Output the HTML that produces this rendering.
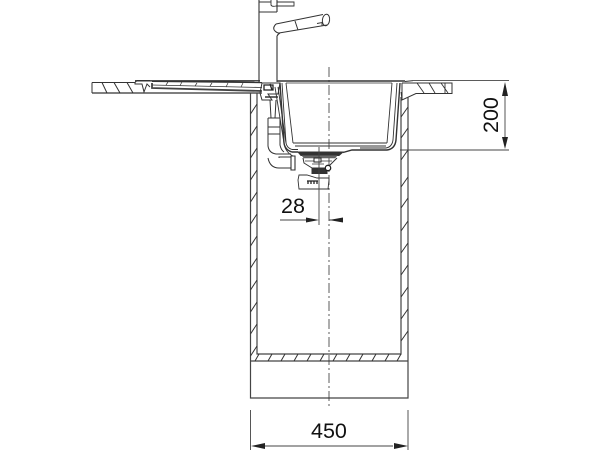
<!DOCTYPE html>
<html><head><meta charset="utf-8"><style>
html,body{margin:0;padding:0;background:#fff}
svg{display:block}
text{font-family:"Liberation Sans",sans-serif;font-size:21.500px;fill:#111}
</style></head><body>
<svg width="600" height="450" viewBox="0 0 600 450" xmlns="http://www.w3.org/2000/svg">
<g fill="none" stroke="#333" stroke-width="1">
<!-- faucet -->
<path d="M259 0V82M277 0V12M259 12H277M277 36V82M277 36Q278 34 280 33" stroke-width="1.100"/>
<path d="M259 2H271M271 0V5Q272 7 276 6H294V2H277" stroke-width=".9"/>
<path d="M276 24L323 14.500M279 33L327 25M276 24Q272 28 275 31Q277 33 279 33M295 21L298 30"/>
<ellipse cx="326" cy="20" rx="3.600" ry="5.800" transform="rotate(8 326 20)"/>
<path d="M317 23.500L322 22.500V26" stroke-width=".9"/>
<!-- left counter -->
<path d="M92 82.500H135L137 80.500H150M92 82.500V93M135 82.500V84H142L144 92L147 84L150 87"/>
<path d="M92 93H262" stroke-width="1.300"/>
<path d="M102 82.500L107 93M114 82.500L120 93M127 82.500L133 93"/>
<path d="M135 80.800H260" stroke-width="1.400"/>
<path d="M152 81.300L262 82.500" stroke-width="1.400"/>
<path d="M152 83V88L262 91" stroke-width="1.800" stroke="#444"/>
<path d="M152 85L262 87.500" stroke-width=".8"/>
<path d="M168 82L166 85M182 82L180 85.500M197 83L195 86M212 83L210 86M228 83L226 87M243 83L241 87" stroke-width=".7"/>
<!-- counter top -->
<path d="M277 81H405" stroke-width="1.600"/>
<!-- right counter -->
<path d="M402 83H452V93.500H416L402 100V83M413 80.600L405 81.500"/>
<path d="M417 83L424 93M429 83L435 93M441 83L448 93M445 83V93.500" stroke-width=".9"/>
<path d="M401 92L402 100" stroke-width=".9"/>
<!-- sink -->
<path d="M280 83L284 143Q285 150 292 152H298M400 83L396 140Q395 149 387 150H352L343 152.500" stroke-width="1.400"/>
<path d="M282 83L286 143Q287 148 292 149.500H298M397 83L393 140Q392 147 386 148H360" stroke-width=".9"/>
<path d="M286 83L293 143M392 83L387 143M293 143H387M295 146H386" stroke-width=".9"/>
<path d="M286 83H392" stroke-width=".8"/>
<!-- clamp & tube -->
<path d="M262 83H280L278 94H268L272 100H262L260 93Z"/>
<path d="M264 85H273V90H264ZM270 84L272 90" stroke="#222" stroke-width="1.300"/>
<path d="M265 97H278" stroke-width="1.500"/>
<path d="M270 100L271 118M276 100L275 118M268 118H280V145Q281 150 284 152M268 118V146Q269 153 276 154H291M268 127H280M268 134H280" />
<path d="M275 87L284 143Q285 152 293 156M278 87L286 143" stroke-width=".9"/>
<path d="M268 158Q270 168 279 168H291M279 158V157H291"/>
<path d="M291 156H295V170H291Z" stroke-width="1.100"/>
<!-- cabinet -->
<path d="M250.500 93V398H408V97M257 93V354H401V97M250.500 361H408" stroke-width="1.200" stroke="#444"/>
<path d="M250.500 114L257 104M250.500 136L257 126M250.500 158L257 148M250.500 180L257 170M250.500 202L257 192M250.500 224L257 214M250.500 246L257 236M250.500 268L257 258M250.500 290L257 280M250.500 312L257 302M250.500 334L257 324M250.500 356L257 346"/>
<path d="M401 117L408 107M401 138L408 128M401 160L408 150M401 187L408 177M401 208L408 198M401 231L408 221M401 253L408 243M401 275L408 265M401 297L408 287M401 319L408 309M401 341L408 331"/>
<path d="M255 361L259 354M268 361L272 354M281 361L285 354M294 361L298 354M307 361L311 354M320 361L324 354M333 361L337 354M346 361L350 354M359 361L363 354M372 361L376 354M385 361L389 354M397 361L401 354"/>
<!-- center line -->
<path d="M329 67V407" stroke-width=".8" stroke-dasharray="10 3 2 3"/>
<!-- waste -->
<path d="M298 152H343L339 155.500H301Z" fill="#333" stroke="#333"/>
<path d="M302 155.500H337L335 158H304Z" fill="#666" stroke="#555" stroke-width=".6"/>
<path d="M303 158L304 163L312 168M337 158L329 166"/>
<path d="M305 161H332M312 164H324" stroke-width=".8"/>
<rect x="314" y="158" width="7" height="4" fill="#fff" stroke="#222"/>
<rect x="312" y="168" width="15" height="5.500" fill="#333" stroke="#333"/>
<circle cx="328" cy="168" r="2.700" fill="#fff" stroke="#222" stroke-width="1.300"/>
<path d="M299 175H307L317 178H329V180L328 189H299L298 180Z" stroke-width=".9"/>
<path d="M307 181H318M308 181V184M311 181V184M314 181V184M317 181V184" stroke="#222" stroke-width="1.300"/>
<!-- dimensions -->
<path d="M413 80.600H509M400 150H509M505 96V137" stroke-width=".9" stroke="#444"/>
<path d="M319 147V225M280 220H306M329 220H343M250.500 410V450M408 410V450M265 446H393" stroke-width=".9" stroke="#444"/>
</g>
<g fill="#222" stroke="none">
<path d="M505 82L502 96H508Z"/>
<path d="M505 149L502 137H508Z"/>
<path d="M319 220L306 217.500V222.500Z"/>
<path d="M329 220L343 217.500V222.500Z"/>
<path d="M251 446L265 443V449Z"/>
<path d="M408 446L394 443V449Z"/>
</g>
<text x="281" y="213">28</text>
<text x="311" y="438">450</text>
<text transform="translate(498 133) rotate(-90)">200</text>
</svg>
</body></html>
